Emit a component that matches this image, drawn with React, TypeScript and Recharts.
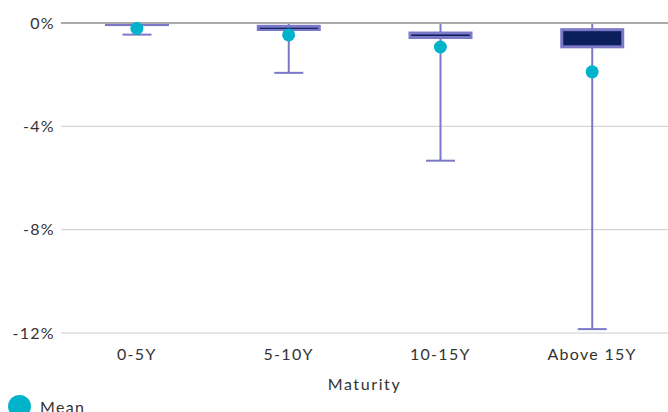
import React from 'react';
import { ComposedChart, Bar, Scatter, XAxis, YAxis, CartesianGrid, ReferenceLine } from 'recharts';

const categories = ['0-5Y', '5-10Y', '10-15Y', 'Above 15Y'];
const minVals = [-0.45, -1.93, -5.33, -11.85];
const q1Vals = [-0.12, -0.31, -0.62, -0.98];
const medianVals = [-0.06, -0.21, -0.48, -0.55];
const q3Vals = [0, -0.07, -0.33, -0.2];
const maxVals = [0, 0, 0, 0];
const meanVals = [-0.21, -0.46, -0.93, -1.89];
const yTicks = [-12, -8, -4, 0];

const data = categories.map((name, i) => ({
  name,
  range: [minVals[i], maxVals[i]],
  min: minVals[i],
  q1: q1Vals[i],
  median: medianVals[i],
  q3: q3Vals[i],
  max: maxVals[i],
  mean: meanVals[i],
}));

const PURPLE = '#7b78c8';
const NAVY = '#0b1f5c';
const CYAN = '#00b3ca';
const TEXT = '#333333';
const FONT = 'Lato, "Noto Sans", sans-serif';
const LS = 1.3;

const BoxShape = (props: any) => {
  const { x, y, width, height, payload } = props;
  if (!payload) return null;
  const top = Math.min(y, y + height);
  const bottom = Math.max(y, y + height);
  const span = payload.max - payload.min;
  const py = (v: number) => top + ((payload.max - v) / span) * (bottom - top);
  const cx = x + width / 2;
  const capHalf = 14.5;
  const sw = 3;
  const boxTop = py(payload.q3);
  const boxBot = py(payload.q1);
  const h = boxBot - boxTop;
  return (
    <g>
      <line x1={cx} x2={cx} y1={py(payload.max)} y2={py(payload.min)} stroke={PURPLE} strokeWidth={2} />
      <line x1={cx - capHalf} x2={cx + capHalf} y1={py(payload.min)} y2={py(payload.min)} stroke={PURPLE} strokeWidth={2} />
      {h > sw ? (
        <rect x={x + sw / 2} y={boxTop + sw / 2} width={width - sw} height={h - sw} fill={NAVY} stroke={PURPLE} strokeWidth={sw} />
      ) : (
        <rect x={x} y={boxTop} width={width} height={Math.max(h, 1)} fill={PURPLE} />
      )}
      {h > sw + 1 ? (
        <line x1={x + sw} x2={x + width - sw} y1={py(payload.median)} y2={py(payload.median)} stroke={NAVY} strokeWidth={1} />
      ) : null}
    </g>
  );
};

const MeanDot = (props: any) => {
  const { cx, cy } = props;
  return <circle cx={cx} cy={cy} r={6.5} fill={CYAN} />;
};

const tickStyle = { fontSize: 16, fill: TEXT, fontFamily: FONT, letterSpacing: LS };

export default function App() {
  return (
    <div style={{ position: 'absolute', left: 0, top: 0, width: 668, height: 412, overflow: 'hidden', fontFamily: FONT }}>
      <ComposedChart width={668} height={412} data={data} margin={{ top: 23, right: 0, left: 0, bottom: 0 }}>
        <CartesianGrid vertical={false} stroke="#cccccc" strokeWidth={1} />
        <ReferenceLine y={0} stroke="#aaaaaa" strokeWidth={2} />
        <XAxis
          dataKey="name"
          axisLine={false}
          tickLine={false}
          tickMargin={10}
          height={79}
          tick={tickStyle}
          label={{ value: 'Maturity', position: 'insideBottom', offset: 22, fontSize: 16, fill: TEXT, fontFamily: FONT, letterSpacing: 1.6 }}
        />
        <YAxis
          domain={[-12, 0]}
          ticks={yTicks}
          axisLine={false}
          tickLine={false}
          tickSize={0}
          tickMargin={6}
          width={61}
          tickFormatter={(v: number) => `${v}%`}
          tick={tickStyle}
        />
        <Bar dataKey="range" barSize={64} shape={BoxShape} isAnimationActive={false} />
        <Scatter dataKey="mean" fill={CYAN} shape={MeanDot} isAnimationActive={false} />
      </ComposedChart>
      <span style={{ position: 'absolute', left: 8, top: 395, width: 23, height: 23, borderRadius: 12, background: CYAN }} />
      <span style={{ position: 'absolute', left: 40, top: 399, fontSize: 16, lineHeight: '16px', color: TEXT, fontFamily: FONT, letterSpacing: 1.3, whiteSpace: 'nowrap' }}>Mean</span>
    </div>
  );
}
